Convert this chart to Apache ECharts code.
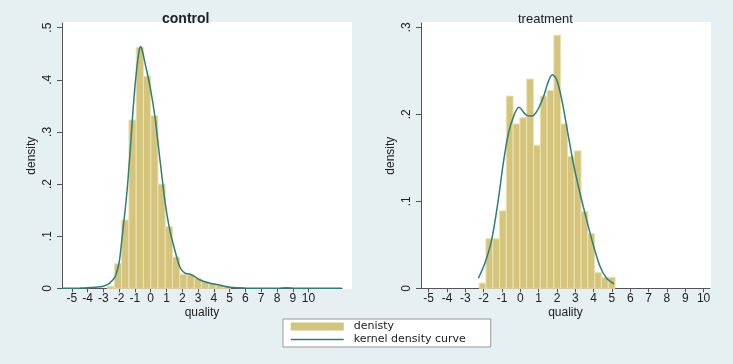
<!DOCTYPE html>
<html><head><meta charset="utf-8">
<script src="https://cdn.jsdelivr.net/npm/echarts@6/dist/echarts.min.js"></script>
<style>html,body{margin:0;padding:0;background:#e6eff2}#c{width:733px;height:364px}</style>
</head><body><div id="c"></div>
<script>
// ---- data ----
const xTicks = [-5,-4,-3,-2,-1,0,1,2,3,4,5,6,7,8,9,10];
const controlYTicks = [0,0.1,0.2,0.3,0.4,0.5];
const treatYTicks = [0,0.1,0.2,0.3];
const controlBinStart = -2.76;
const controlBinWidth = 0.46;
const controlDensity = [0.004,0.047,0.131,0.323,0.462,0.407,0.331,0.200,0.118,0.060,0.027,0.026,0.019,0.013,0.009,0.006,0.003];
const controlKernel = [[-5.6,0],[-4.5,0.0005],[-4,0.001],[-3.5,0.002],[-3,0.004],[-2.6,0.01],[-2.26,0.022],[-2.0,0.05],[-1.84,0.09],[-1.52,0.18],[-1.31,0.26],[-1.1,0.35],[-0.89,0.42],[-0.72,0.458],[-0.63,0.464],[-0.5,0.452],[-0.36,0.432],[-0.04,0.387],[0.27,0.329],[0.59,0.246],[0.91,0.166],[1.22,0.11],[1.54,0.072],[1.86,0.040],[2.17,0.029],[2.49,0.027],[2.81,0.022],[3.13,0.016],[3.76,0.0096],[4.39,0.006],[5.03,0.002],[6,0.0005],[8,0.0003],[8.6,0.001],[9.2,0.0002],[12.1,0]];
const treatBinStart = -2.25;
const treatBinWidth = 0.371;
const treatDensity = [0.006,0.057,0.057,0.089,0.221,0.189,0.196,0.2405,0.1645,0.221,0.2275,0.291,0.189,0.1515,0.158,0.088,0.063,0.018,0.0127,0.0127];
const treatKernel = [[-2.29,0.0115],[-1.93,0.029],[-1.56,0.056],[-1.2,0.102],[-0.93,0.144],[-0.65,0.178],[-0.38,0.197],[-0.08,0.208],[0.31,0.1995],[0.62,0.198],[0.89,0.203],[1.26,0.22],[1.53,0.238],[1.75,0.2455],[1.98,0.24],[2.26,0.217],[2.53,0.186],[2.89,0.144],[3.26,0.109],[3.62,0.0786],[3.98,0.05],[4.35,0.025],[4.71,0.0115],[5.11,0.005]];

// ---- style ----
const barColor = '#d5c47c';
const curveColor = '#2e7f77';
const axisColor = '#555';
const font = 'Liberation Sans, Arial, sans-serif';

function hist(start, w, vals){ return vals.map((v,i)=>[start+i*w, start+(i+1)*w, v]); }
function renderBar(params, api){
  const p0 = api.coord([api.value(0), api.value(2)]);
  const p1 = api.coord([api.value(1), 0]);
  return {type:'rect', shape:{x:p0[0], y:p0[1], width:p1[0]-p0[0], height:p1[1]-p0[1]},
    style:{fill:barColor, stroke:'#ece2b4', lineWidth:1}};
}
function yFmt(v){ return v===0 ? '0' : '.' + Math.round(v*10); }
function xAxis(idx,min,max){
  return {type:'value', gridIndex:idx, min:min, max:max,
    name:'quality', nameLocation:'middle', nameGap:18, nameMoveOverlap:false,
    nameTextStyle:{fontFamily:font, fontSize:12, color:'#222'},
    axisLine:{show:true, onZero:false, lineStyle:{color:axisColor}},
    axisTick:{show:true, length:4, lineStyle:{color:axisColor}, customValues:xTicks},
    axisLabel:{fontFamily:font, fontSize:12, color:'#222', margin:4, customValues:xTicks, showMinLabel:true, showMaxLabel:true},
    splitLine:{show:false}};
}
function yAxis(idx,max,ticks){
  return {type:'value', gridIndex:idx, min:0, max:max, interval:0.1,
    name:'density', nameLocation:'middle', nameGap:24, nameMoveOverlap:false,
    nameTextStyle:{fontFamily:'Liberation Sans Narrow, Liberation Sans, Arial', fontSize:12, color:'#222'},
    axisLine:{show:true, onZero:false, lineStyle:{color:axisColor}},
    axisTick:{show:true, length:5, lineStyle:{color:axisColor}, customValues:ticks},
    axisLabel:{fontFamily:font, fontSize:12, color:'#222', rotate:90, margin:8, formatter:yFmt, customValues:ticks},
    splitLine:{show:false}};
}
const chart = echarts.init(document.getElementById('c'));
chart.setOption({
  backgroundColor:'#e6eff2',
  animation:false,
  graphic:[
    {type:'rect', z:-10, shape:{x:62,y:22,width:290,height:267}, style:{fill:'#fff'}},
    {type:'rect', z:-10, shape:{x:421,y:22,width:290,height:267}, style:{fill:'#fff'}}
  ],
  title:[
    {text:'control', left:157, top:7, textStyle:{fontFamily:font, fontSize:14, fontWeight:'bold', color:'#222'}},
    {text:'treatment', left:513, top:8, textStyle:{fontFamily:font, fontSize:13, fontWeight:'normal', color:'#222'}}
  ],
  grid:[
    {left:62, top:23, width:280, height:265.3},
    {left:421, top:23, width:289, height:265.3}
  ],
  xAxis:[xAxis(0,-5.62,12.12), xAxis(1,-5.42,10.35)],
  yAxis:[yAxis(0,0.509,controlYTicks), yAxis(1,0.305,treatYTicks)],
  legend:{
    orient:'vertical', left:283, top:319, itemGap:2, itemWidth:53, itemHeight:8,
    backgroundColor:'#fff', borderColor:'#999', borderWidth:1, borderRadius:0,
    padding:[2,25,2,7],
    textStyle:{fontFamily:'DejaVu Sans, Verdana, sans-serif', fontSize:11, color:'#222', padding:[0,0,0,5]},
    data:[{name:'denisty', icon:'rect'}, {name:'kernel density curve', itemStyle:{opacity:0}, lineStyle:{color:curveColor, width:1.5}}]
  },
  series:[
    {name:'denisty', type:'custom', xAxisIndex:0, yAxisIndex:0, renderItem:renderBar, itemStyle:{color:barColor},
      encode:{x:[0,1], y:2}, data:hist(controlBinStart, controlBinWidth, controlDensity)},
    {name:'kernel density curve', type:'line', xAxisIndex:0, yAxisIndex:0, smooth:0.3, symbol:'none',
      lineStyle:{color:curveColor, width:1.5}, itemStyle:{color:curveColor}, data:controlKernel},
    {name:'denisty', type:'custom', xAxisIndex:1, yAxisIndex:1, renderItem:renderBar, itemStyle:{color:barColor},
      encode:{x:[0,1], y:2}, data:hist(treatBinStart, treatBinWidth, treatDensity)},
    {name:'kernel density curve', type:'line', xAxisIndex:1, yAxisIndex:1, smooth:0.3, symbol:'none',
      lineStyle:{color:curveColor, width:1.5}, itemStyle:{color:curveColor}, data:treatKernel}
  ]
});
</script></body></html>
